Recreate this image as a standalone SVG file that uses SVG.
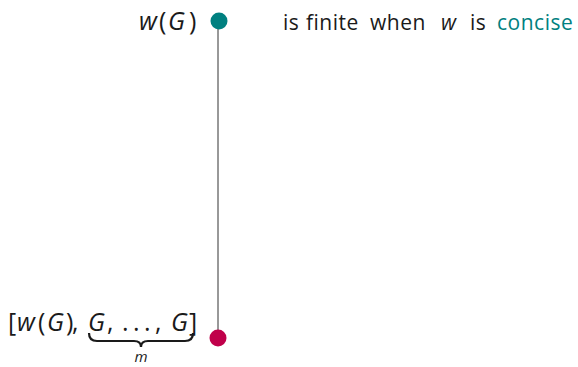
<svg xmlns="http://www.w3.org/2000/svg" width="578" height="367" viewBox="0 0 578 367">
<style>
.t{font-family:"Open Sans","DejaVu Sans",sans-serif;fill:#1a1a1a}
.m{font-size:25px}
.i{font-style:italic}
.w{font-size:21px;letter-spacing:0.5px}
</style>
<rect width="578" height="367" fill="#fff"/>
<g id="connectors">
<line x1="218" y1="21" x2="218" y2="338" stroke="#333" stroke-width="1"/>
</g>
<g id="top">
<circle cx="219" cy="21" r="8.5" fill="#008080"/>
<text class="t m" y="30"><tspan class="i" x="139">w</tspan><tspan x="159">(</tspan><tspan class="i" x="168">G</tspan><tspan x="189">)</tspan></text>
<text class="t w" y="30"><tspan x="283">is</tspan><tspan x="306">finite</tspan><tspan x="370">when</tspan><tspan class="i" x="441">w</tspan><tspan x="470">is</tspan><tspan x="497" fill="#008080">concise</tspan></text>
</g>
<g id="bottom">
<circle cx="218" cy="338" r="8.5" fill="#c0004a"/>
<text class="t m" y="331"><tspan x="8">[</tspan><tspan class="i" x="17">w</tspan><tspan x="38">(</tspan><tspan class="i" x="47">G</tspan><tspan x="66">)</tspan><tspan x="72">,</tspan><tspan class="i" x="88">G</tspan><tspan x="107">,</tspan><tspan x="122">.</tspan><tspan x="133">.</tspan><tspan x="144">.</tspan><tspan x="155">,</tspan><tspan class="i" x="171">G</tspan><tspan x="189">]</tspan></text>
<path d="M89,333 Q89,341 97,341 L134,341 Q141,341 141,347 Q141,341 148,341 L185,341 Q193,341 193,333" fill="none" stroke="#1a1a1a" stroke-width="2.2"/>
<text class="t i" x="141" y="362" font-size="15" text-anchor="middle">m</text>
</g>
</svg>
